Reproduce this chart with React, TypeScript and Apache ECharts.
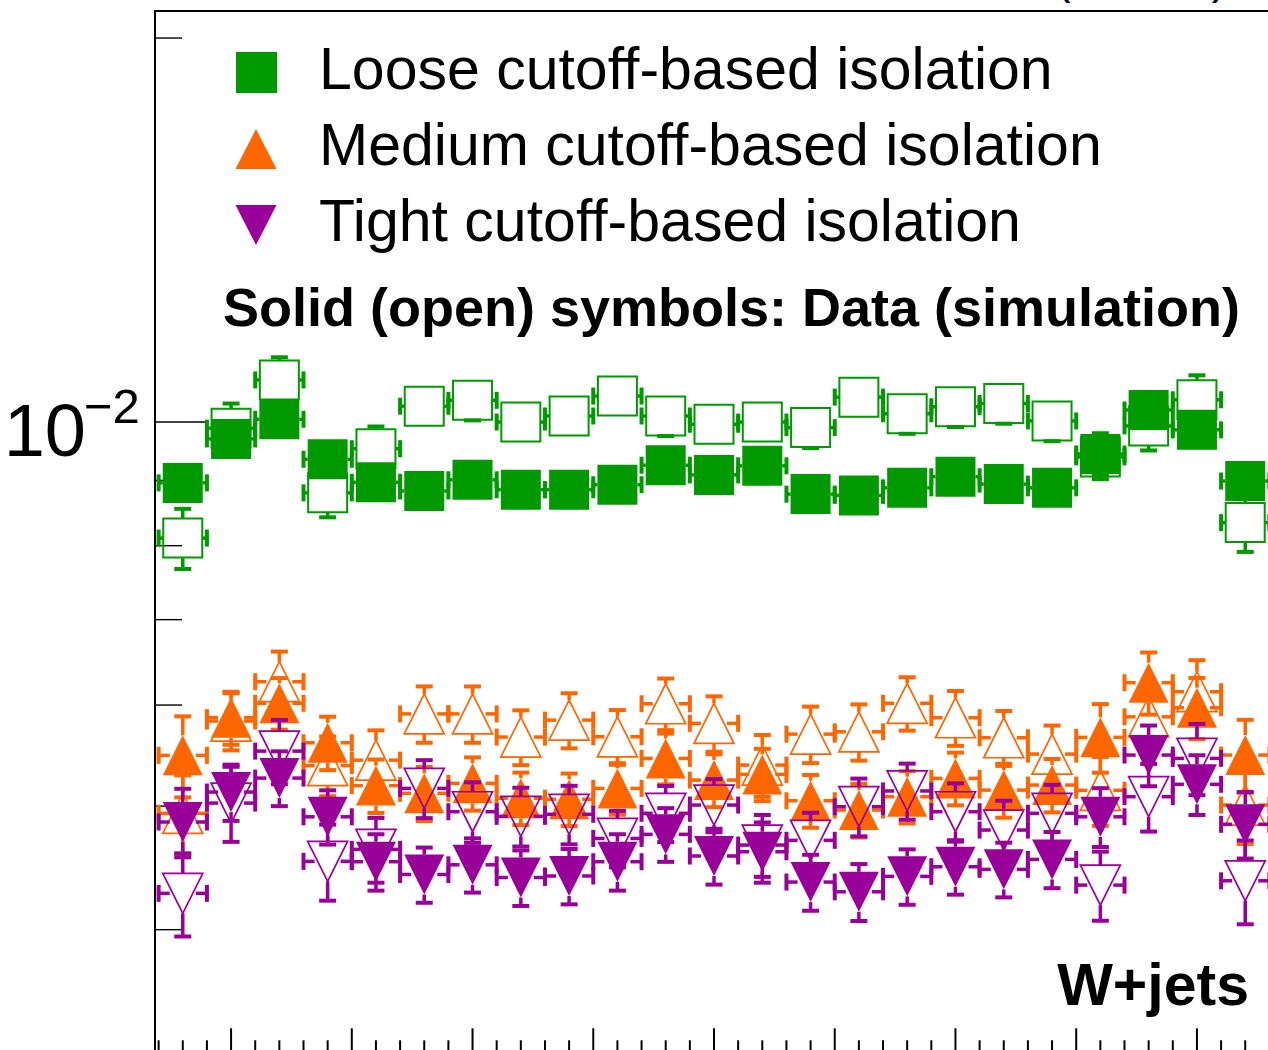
import React, { useEffect, useRef } from "react";
import * as echarts from "echarts";

// ---- data ----
const etaCenters = [-2.2, -2.0, -1.8, -1.6, -1.4, -1.2, -1.0, -0.8, -0.6, -0.4, -0.2, 0, 0.2, 0.4, 0.6, 0.8, 1.0, 1.2, 1.4, 1.6, 1.8, 2.0, 2.2];
const binHalfWidth = 0.1;

const looseData = [0.00896, 0.0097, 0.01005, 0.00935, 0.00897, 0.00883, 0.00901, 0.00885, 0.00885, 0.00893, 0.00925, 0.00909, 0.00924, 0.00878, 0.00876, 0.00888, 0.00906, 0.00894, 0.00888, 0.00944, 0.01022, 0.00986, 0.00899];
const looseDataErr = [0.0003, 0.0003, 0.00032, 0.0003, 0.00028, 0.00027, 0.00028, 0.00027, 0.00027, 0.00028, 0.00029, 0.00029, 0.00029, 0.00028, 0.00028, 0.00028, 0.00029, 0.00029, 0.00029, 0.00036, 0.00033, 0.00032, 0.00031];
const looseSim = [0.00811, 0.00989, 0.01079, 0.0088, 0.00953, 0.01029, 0.0104, 0.01, 0.01011, 0.01048, 0.01011, 0.00996, 0.01, 0.0099, 0.01046, 0.01015, 0.01028, 0.01034, 0.01002, 0.00939, 0.00993, 0.01041, 0.00834];
const looseSimErr = [0.00044, 0.00045, 0.00045, 0.00038, 0.00039, 0.00036, 0.00037, 0.00035, 0.00035, 0.00036, 0.00036, 0.00035, 0.00035, 0.00036, 0.00037, 0.00036, 0.00037, 0.00037, 0.00036, 0.00037, 0.00043, 0.00047, 0.00043];

const mediumData = [0.005479, 0.005865, 0.006019, 0.005605, 0.005188, 0.005116, 0.005209, 0.005071, 0.005062, 0.005162, 0.005449, 0.00524, 0.005294, 0.005048, 0.004964, 0.005085, 0.005256, 0.005146, 0.005193, 0.00566, 0.006247, 0.005971, 0.005482];
const mediumDataErr = [0.0004, 0.00028, 0.00028, 0.00027, 0.00025, 0.00025, 0.00025, 0.00024, 0.00024, 0.00024, 0.00025, 0.00025, 0.00025, 0.00024, 0.00024, 0.00024, 0.00025, 0.00025, 0.00025, 0.00035, 0.00035, 0.00033, 0.00036];
const mediumSim = [0.004935, 0.005829, 0.006258, 0.005379, 0.005432, 0.005905, 0.005905, 0.005663, 0.005839, 0.005666, 0.006014, 0.005805, 0.005384, 0.005693, 0.005717, 0.006019, 0.005864, 0.005656, 0.005492, 0.005144, 0.005874, 0.006146, 0.005009];
const mediumSimErr = [0.00035, 0.0003, 0.00035, 0.00029, 0.0003, 0.0003, 0.0003, 0.00028, 0.00029, 0.00028, 0.00028, 0.00029, 0.0003, 0.00029, 0.00029, 0.00029, 0.00029, 0.00028, 0.00029, 0.00032, 0.00033, 0.00036, 0.00034];

const tightData = [0.004858, 0.005128, 0.005259, 0.004904, 0.004522, 0.004419, 0.004497, 0.004395, 0.004407, 0.004522, 0.004751, 0.004569, 0.004604, 0.004359, 0.004283, 0.004404, 0.004481, 0.00446, 0.004541, 0.004904, 0.005482, 0.0052, 0.004838];
const tightDataErr = [0.0003, 0.00026, 0.00026, 0.00024, 0.00023, 0.00022, 0.00022, 0.00022, 0.00022, 0.00023, 0.00023, 0.00023, 0.00025, 0.00022, 0.00022, 0.00022, 0.00022, 0.00022, 0.00023, 0.00026, 0.0003, 0.00028, 0.00029];
const tightSim = [0.004271, 0.005027, 0.005521, 0.004525, 0.004624, 0.005162, 0.004949, 0.004908, 0.004926, 0.004716, 0.004935, 0.005009, 0.00466, 0.0047, 0.004994, 0.005138, 0.004949, 0.004788, 0.004935, 0.004335, 0.005085, 0.005449, 0.004369];
const tightSimErr = [0.00032, 0.00034, 0.00032, 0.00031, 0.00027, 0.00027, 0.00027, 0.00026, 0.00026, 0.00024, 0.00025, 0.00024, 0.00026, 0.00024, 0.00026, 0.00026, 0.00026, 0.00026, 0.00026, 0.00027, 0.00031, 0.00035, 0.00033];

// axis ticks / labels
const yMinorTicks = [0.004, 0.005, 0.006, 0.007, 0.008, 0.009, 0.02];
const yMajorTicks = [0.01];
const xMajorTicks = [-2.0, -1.5, -1.0, -0.5, 0, 0.5, 1.0, 1.5, 2.0];
const xMinorTicks = [-2.3, -2.2, -2.1, -1.9, -1.8, -1.7, -1.6, -1.4, -1.3, -1.2, -1.1, -0.9, -0.8, -0.7, -0.6, -0.4, -0.3, -0.2, -0.1, 0.1, 0.2, 0.3, 0.4, 0.6, 0.7, 0.8, 0.9, 1.1, 1.2, 1.3, 1.4, 1.6, 1.7, 1.8, 1.9, 2.1, 2.2, 2.3];

const legendLabels = ["Loose cutoff-based isolation", "Medium cutoff-based isolation", "Tight cutoff-based isolation"];
const noteText = "Solid (open) symbols: Data (simulation)";
const sampleText = "W+jets";
const energyText = "(13 TeV)";

// ---- style ----
const FONT = '"Liberation Sans", Arial, Helvetica, sans-serif';
const GREEN = "#009900";
const ORANGE = "#ff6600";
const PURPLE = "#990099";
const OFF = 60;
const X_MIN = -2.315;
const X_MAX = 2.315;
const Y_MIN = 0.0032;
const Y_MAX = 0.021;
const MS = 20; // half marker size

function mid(baseline: number, size: number) {
  return baseline - 0.3465 * size;
}

function makeSeries(name: string, values: number[], errors: number[], color: string, shape: string, filled: boolean, z: number) {
  const data = etaCenters.map((x, i) => [x, values[i], errors[i]]);
  return {
    type: "custom",
    name,
    coordinateSystem: "cartesian2d",
    data,
    z,
    clip: false,
    silent: true,
    renderItem: (_params: any, api: any) => {
      const x = api.value(0);
      const y = api.value(1);
      const e = api.value(2);
      const c = api.coord([x, y]);
      const l = api.coord([x - binHalfWidth, y]);
      const r = api.coord([x + binHalfWidth, y]);
      const t = api.coord([x, y + e]);
      const b = api.coord([x, y - e]);
      const gapX = shape === "square" ? MS : 13;
      const gapY = MS;
      const bar = { stroke: color, lineWidth: 3.5 };
      const cap = { stroke: color, lineWidth: 4 };
      const ch: any[] = [];
      const L = (x1: number, y1: number, x2: number, y2: number, st: any) =>
        ch.push({ type: "line", shape: { x1, y1, x2, y2 }, style: st });
      if (l[0] < c[0] - gapX) L(l[0], c[1], c[0] - gapX, c[1], bar);
      L(l[0], c[1] - 8.5, l[0], c[1] + 8.5, cap);
      if (r[0] > c[0] + gapX) L(c[0] + gapX, c[1], r[0], c[1], bar);
      L(r[0], c[1] - 8.5, r[0], c[1] + 8.5, cap);
      if (t[1] < c[1] - gapY) {
        L(c[0], t[1], c[0], c[1] - gapY, bar);
        L(c[0] - 8.5, t[1], c[0] + 8.5, t[1], cap);
      }
      if (b[1] > c[1] + gapY) {
        L(c[0], c[1] + gapY, c[0], b[1], bar);
        L(c[0] - 8.5, b[1], c[0] + 8.5, b[1], cap);
      }
      const mstyle = filled
        ? { fill: color, stroke: null }
        : { fill: "none", stroke: color, lineWidth: shape === "square" ? 2 : 1.7 };
      if (shape === "square") {
        const h = filled ? MS : MS - 0.5;
        ch.push({ type: "rect", shape: { x: c[0] - h, y: c[1] - h, width: 2 * h, height: 2 * h }, style: mstyle });
      } else if (shape === "up") {
        ch.push({ type: "polygon", shape: { points: [[c[0], c[1] - MS], [c[0] + MS, c[1] + MS], [c[0] - MS, c[1] + MS]] }, style: mstyle });
      } else {
        ch.push({ type: "polygon", shape: { points: [[c[0] - MS, c[1] - MS], [c[0] + MS, c[1] - MS], [c[0], c[1] + MS]] }, style: mstyle });
      }
      return { type: "group", children: ch };
    },
  };
}

export default function App() {
  const ref = useRef<HTMLDivElement>(null);
  useEffect(() => {
    if (!ref.current) return;
    const chart = echarts.init(ref.current, undefined, { renderer: "svg" });

    const yTickData = [
      ...yMinorTicks.map((v) => [X_MIN, v, 0]),
      ...yMajorTicks.map((v) => [X_MIN, v, 1]),
    ];
    const xTickData = [
      ...xMinorTicks.map((v) => [v, Y_MIN, 0]),
      ...xMajorTicks.map((v) => [v, Y_MIN, 1]),
    ];

    const option: any = {
      animation: false,
      grid: {
        show: true,
        left: 155,
        top: 11 + OFF,
        width: 1118,
        height: 1042.3,
        borderColor: "#000",
        borderWidth: 2,
        backgroundColor: "transparent",
      },
      xAxis: { type: "value", min: X_MIN, max: X_MAX, show: false },
      yAxis: { type: "log", logBase: 10, min: Y_MIN, max: Y_MAX, show: false },
      graphic: [
        { type: "rect", shape: { x: 236, y: 52 + OFF, width: 41, height: 41 }, style: { fill: GREEN } },
        { type: "polygon", shape: { points: [[256, 129 + OFF], [276.5, 169 + OFF], [235.5, 169 + OFF]] }, style: { fill: ORANGE } },
        { type: "polygon", shape: { points: [[235.5, 205 + OFF], [276.5, 205 + OFF], [256, 245 + OFF]] }, style: { fill: PURPLE } },
        ...legendLabels.map((t, i) => ({
          type: "text",
          x: 319,
          y: mid(89.3 + i * 76, 59) + OFF,
          style: { text: t, fontSize: 59, fontFamily: FONT, fill: "#000", align: "left", verticalAlign: "middle" },
        })),
        {
          type: "text",
          x: 223,
          y: mid(326, 54) + OFF,
          style: { text: noteText, fontSize: 54, fontWeight: "bold", fontFamily: FONT, fill: "#000", align: "left", verticalAlign: "middle" },
        },
        {
          type: "text",
          x: 1249,
          y: mid(1005, 59) + OFF,
          style: { text: sampleText, fontSize: 59, fontWeight: "bold", fontFamily: FONT, fill: "#000", align: "right", verticalAlign: "middle" },
        },
        {
          type: "text",
          x: 1227,
          y: mid(-6.5, 45.6) + OFF,
          style: { text: energyText, fontSize: 45.6, fontFamily: FONT, fill: "#000", align: "right", verticalAlign: "middle" },
        },
      ],
      series: [
        {
          type: "custom",
          name: "yticks",
          coordinateSystem: "cartesian2d",
          data: yTickData,
          z: 1,
          silent: true,
          clip: false,
          renderItem: (_p: any, api: any) => {
            const p = api.coord([api.value(0), api.value(1)]);
            const major = api.value(2) === 1;
            const ch: any[] = [
              { type: "line", shape: { x1: p[0], y1: p[1], x2: p[0] + (major ? 50 : 27), y2: p[1] }, style: { stroke: "#000", lineWidth: 1.4 } },
            ];
            if (major) {
              ch.push({
                type: "text",
                x: p[0] - 69,
                y: p[1] + 34 - 0.3465 * 74,
                style: { text: "10", fontSize: 74, fontFamily: FONT, fill: "#000", align: "right", verticalAlign: "middle" },
              });
              ch.push({
                type: "text",
                x: p[0] - 71,
                y: p[1] + 1.3 - 0.3465 * 49,
                style: { text: "\u22122", fontSize: 49, fontFamily: FONT, fill: "#000", align: "left", verticalAlign: "middle" },
              });
            }
            return { type: "group", children: ch };
          },
        },
        {
          type: "custom",
          name: "xticks",
          coordinateSystem: "cartesian2d",
          data: xTickData,
          z: 1,
          silent: true,
          clip: false,
          renderItem: (_p: any, api: any) => {
            const p = api.coord([api.value(0), api.value(1)]);
            const major = api.value(2) === 1;
            return {
              type: "line",
              shape: { x1: p[0], y1: p[1], x2: p[0], y2: p[1] - (major ? 25 : 13) },
              style: { stroke: "#000", lineWidth: 2 },
            };
          },
        },
        makeSeries("Loose (simulation)", looseSim, looseSimErr, GREEN, "square", false, 3),
        makeSeries("Loose (data)", looseData, looseDataErr, GREEN, "square", true, 4),
        makeSeries("Medium (simulation)", mediumSim, mediumSimErr, ORANGE, "up", false, 5),
        makeSeries("Medium (data)", mediumData, mediumDataErr, ORANGE, "up", true, 6),
        makeSeries("Tight (simulation)", tightSim, tightSimErr, PURPLE, "down", false, 7),
        makeSeries("Tight (data)", tightData, tightDataErr, PURPLE, "down", true, 8),
      ],
    };
    chart.setOption(option);
    return () => chart.dispose();
  }, []);

  return (
    <div
      ref={ref}
      style={{ position: "fixed", left: 0, top: -OFF, width: 1310, height: 1130, background: "#fff" }}
    />
  );
}
